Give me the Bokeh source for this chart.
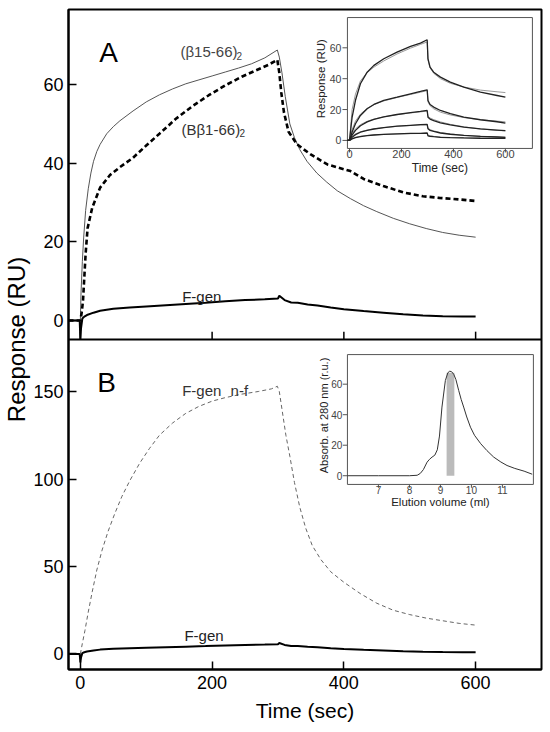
import math
from bokeh.plotting import figure
from bokeh.models import Range1d, FixedTicker, Span
from bokeh.embed import file_html
from bokeh.resources import INLINE
from bokeh.core.properties import value

FONT = "Liberation Sans"

# ---------------- data ----------------
time_ticks = [0, 200, 400, 600]
a_ticks = [0, 20, 40, 60]
b_ticks = [0, 50, 100, 150]

# Panel A: (beta15-66)2, thin grey line
beta15_t = [-18, -2, 0, 1, 3, 5, 8, 12, 16, 20, 25, 30, 40, 50, 60, 80, 100, 120, 140, 160,
            180, 200, 220, 240, 260, 280, 299, 302, 306, 311, 318, 325, 333, 344, 359, 374,
            390, 410, 430, 450, 475, 500, 525, 550, 575, 600]
beta15_ru = [0, 0, 0, 7, 15, 21, 28, 33.5, 37.5, 40.5, 43, 44.8, 47.5, 49.3, 50.8, 53.3, 55.6,
             57.4, 58.9, 60.2, 61.2, 62.2, 63.2, 64.2, 65.3, 66.8, 68.8, 67, 63, 57, 50, 46.5,
             43.5, 40.5, 37.5, 35.2, 33, 31, 29.2, 27.7, 26, 24.6, 23.4, 22.4, 21.7, 21.2]

# Panel A: (Bbeta1-66)2, thick dashed line
bbeta_t = [-18, -2, 0, 2, 4, 8, 11, 18, 30, 45, 60, 80, 100, 120, 145, 170, 195, 220, 245, 265,
           285, 299, 302, 305, 309, 316, 329, 349, 375, 410, 430, 460, 490, 520, 545, 575, 600]
bbeta_ru = [0, 0, 0, 2, 5, 17, 23.5, 28.7, 33.8, 37, 39, 41.4, 44.5, 47.5, 51.3, 54.5, 57.3,
            59.8, 62, 63.5, 65, 66.3, 63, 58, 53, 48, 44.8, 42.3, 39.7, 38, 36, 34.2, 32.6,
            31.6, 31.2, 30.8, 30.4]

# F-gen (panels A and B)
fgen_t = [-18, -5, -1, 0, 1, 3, 6, 10, 20, 30, 50, 75, 100, 130, 160, 190, 220, 250, 280, 300,
          302, 310, 320, 330, 345, 360, 380, 400, 430, 460, 490, 520, 550, 580, 600]
fgen_ru = [0, 0, 0, -4.8, -2, 0.5, 1, 1.4, 2, 2.5, 3, 3.3, 3.6, 3.9, 4.2, 4.5, 4.9, 5.2, 5.4,
           5.6, 6.3, 5.2, 4.6, 4.5, 4.1, 3.8, 3.3, 2.9, 2.4, 2, 1.6, 1.3, 1.1, 1, 1]

# Panel B: F-gen n-f, thin dashed line
nf_t = [0, 3, 7, 12, 18, 25, 33, 42, 52, 63, 75, 90, 105, 120, 140, 160, 180, 200, 220, 245,
        270, 290, 299, 302, 306, 312, 318, 325, 333, 342, 352, 365, 380, 400, 425, 450, 475,
        500, 525, 550, 575, 600]
nf_ru = [0, 6, 13.5, 24, 35.5, 48, 59.4, 70, 80, 90, 99, 109, 117.5, 125, 132, 137.5, 141.5,
         144.5, 146.5, 148.5, 150, 151.5, 153, 150, 140, 125, 113, 98, 84, 72, 62, 54, 47,
         41, 34.5, 29, 25, 22.5, 20.5, 19, 17.5, 16.5]

# Inset A: binding curves (black) and fits (grey)
insA_t = [-8, 0, 10, 23, 42, 68, 94, 132, 183, 235, 273, 299, 302, 310, 324, 350, 388, 440,
          504, 568, 600]
insA_c1 = [0, 0, 15, 26, 36.7, 44.2, 48.6, 52.9, 57.2, 60.9, 63, 65.2, 53, 47.5, 44.2, 41,
           37.8, 34.5, 31.3, 29.1, 28]
insA_f1 = [0, 0, 20, 30, 38.5, 44, 47.5, 51.5, 56, 59.8, 62.2, 63.8, 52, 47, 43.5, 40, 37,
           34.6, 32.6, 31.5, 31]
insA_c2 = [0, 0, 5.4, 10.8, 16.2, 20.5, 23.3, 25.9, 28, 30.2, 31.7, 32.8, 25.9, 23.3, 21.6,
           19.4, 17.3, 15.1, 13.4, 12.1, 11.2]
insA_f2 = [0, 0, 7, 12.5, 17, 20.8, 23.2, 25.6, 27.8, 29.8, 31.2, 32.3, 25, 22.5, 20.5, 18.3,
           16.5, 14.8, 13.4, 12.5, 12]
insA_c3 = [0, 0, 3.5, 6.5, 9.5, 12, 13.6, 15.3, 16.8, 18, 18.8, 19.4, 15, 13.8, 12.8, 11.4,
           10, 8.6, 7.5, 6.7, 6.3]
insA_f3 = [0, 0, 4.5, 7.5, 10.2, 12.4, 13.8, 15.3, 16.7, 17.8, 18.5, 19, 15.8, 14.5, 13.5, 12,
           10.4, 8.8, 7.4, 6.5, 6.2]
insA_c4 = [0, 0, 2, 3.7, 5.3, 6.5, 7.4, 8.3, 9.2, 9.8, 10.2, 10.4, 7.5, 6.5, 5.8, 4.8, 4, 3.3,
           2.6, 2.2, 2]
insA_f4 = [0, 0, 2.6, 4.2, 5.6, 6.7, 7.5, 8.3, 9.1, 9.7, 10, 10.2, 8, 7, 6.2, 5.1, 4.2, 3.3,
           2.7, 2.3, 2.1]
insA_c5 = [0, 0, 1, 1.8, 2.5, 3.1, 3.5, 3.9, 4.3, 4.5, 4.6, 4.8, 3, 2.7, 2.4, 2, 1.8, 1.6, 1.4,
           1.3, 1.3]
insA_f5 = [0, 0, 1.2, 2, 2.7, 3.2, 3.6, 3.9, 4.2, 4.4, 4.5, 4.6, 3.3, 2.9, 2.6, 2.2, 1.9, 1.7,
           1.5, 1.4, 1.3]
insA_x_ticks = [0, 200, 400, 600]
insA_y_ticks = [0, 20, 40, 60]

# Inset B: elution profile
chrom_ml = [6.0, 7.0, 8.0, 8.25, 8.35, 8.45, 8.57, 8.65, 8.73, 8.82, 8.9, 8.97, 9.05, 9.16,
            9.24, 9.30, 9.36, 9.43, 9.5, 9.59, 9.67, 9.75, 9.85, 9.97, 10.1, 10.3, 10.5,
            10.72, 10.95, 11.15, 11.4, 11.7, 11.96]
chrom_abs = [0, 0, 0, 0.3, 1.5, 4, 8.9, 10.8, 12.2, 13.5, 17, 26, 45, 62.4, 67.5, 68.5, 68.2,
             66.5, 63, 55.9, 50, 45, 38.5, 31.8, 26.5, 21, 16.5, 12.2, 9, 6.7, 4.8, 3, 1]
band_ml = [9.2, 9.45]
band_abs = 67.5
insB_x_ticks = [7, 8, 9, 10, 11]
insB_y_ticks = [0, 20, 40, 60]

# ---------------- geometry ----------------
X_RANGE = (-18, 700)
Y_FULL = (-8.86, 368.3)       # panel B units over the whole frame
DIV = 179.7                   # A/B boundary in panel B units
A_SRC = (-4.83, 79.1)
A_TGT = (DIV, Y_FULL[1])
INSA_SRC_X = (-8, 704)
INSA_SRC_Y = (-5.2, 79.6)
INSA_TGT_X = (405.4, 686.2)
INSA_TGT_Y = (288.9, 363.7)
INSB_SRC_X = (6, 12)
INSB_SRC_Y = (-5.7, 79.4)
INSB_TGT_X = (405.4, 687.7)
INSB_TGT_Y = (96.9, 171.1)

p = figure(width=550, height=732, output_backend="svg", toolbar_location=None,
           x_range=Range1d(*X_RANGE), y_range=Range1d(*Y_FULL),
           min_border_left=68, min_border_right=9, min_border_top=9, min_border_bottom=63)
p.grid.visible = False
p.outline_line_color = "black"
p.outline_line_width = 2
p.background_fill_color = "white"
p.border_fill_color = "white"

# x axis
xa = p.xaxis[0]
xa.ticker = FixedTicker(ticks=time_ticks)
xa.axis_label = "Time (sec)"
for ax in [xa, p.yaxis[0]]:
    ax.major_tick_in = 8
    ax.major_tick_out = 0
    ax.minor_tick_line_color = None
    ax.major_tick_line_width = 1.5
    ax.major_tick_line_color = "black"
    ax.axis_line_width = 2
    ax.axis_line_color = "black"
    ax.major_label_text_font = FONT
    ax.major_label_text_font_size = "18px"
    ax.major_label_text_color = "black"
    ax.axis_label_text_font = FONT
    ax.axis_label_text_font_style = "normal"
    ax.axis_label_text_color = "black"
xa.major_label_standoff = 6
xa.axis_label_standoff = 7
xa.axis_label_text_font_size = "21px"

# y axis: panel B ticks plus panel A ticks mapped into the shared frame
def a_to_frame(v):
    return A_TGT[0] + (v - A_SRC[0]) * (A_TGT[1] - A_TGT[0]) / (A_SRC[1] - A_SRC[0])

a_pos = [a_to_frame(v) for v in a_ticks]
ya = p.yaxis[0]
ya.ticker = FixedTicker(ticks=[float(v) for v in b_ticks] + a_pos)
overrides = {float(v): str(v) for v in b_ticks}
overrides.update({pos: str(v) for pos, v in zip(a_pos, a_ticks)})
ya.major_label_overrides = overrides
ya.major_label_standoff = 5
ya.axis_label = "Response (RU)"
ya.axis_label_standoff = 0
ya.axis_label_text_font_size = "24px"

# divider between panels
p.add_layout(Span(location=DIV, dimension="width", line_color="black", line_width=2))

# ---------------- panel A ----------------
sa = p.subplot(x_source=Range1d(*X_RANGE), y_source=Range1d(*A_SRC),
               x_target=Range1d(*X_RANGE), y_target=Range1d(*A_TGT))
sa.segment(x0=time_ticks, y0=[A_SRC[0]] * 4, x1=time_ticks, y1=[A_SRC[0] + 2.0] * 4,
           line_color="black", line_width=1.5)
sa.line(beta15_t, beta15_ru, line_color="#555555", line_width=1)
sa.line(bbeta_t, bbeta_ru, line_color="black", line_width=2.6, line_dash="5 3")
sa.line(fgen_t, fgen_ru, line_color="black", line_width=2)

txt = dict(text_font=value(FONT), text_baseline="alphabetic", text_align="left")
sa.text(x=[43], y=[68.2], text=["A"], text_font_size="28px", text_color="black",
        text_font=value(FONT), text_baseline="alphabetic", text_align="center")
sa.text(x=[152], y=[68.4], text=["(β15-66)"], text_font_size="15px", text_color="#444444", **txt)
sa.text(x=[152], y=[68.4], text=["2"], text_font_size="10px", text_color="#444444",
        x_offset=56, y_offset=4, **txt)
sa.text(x=[153.5], y=[48.7], text=["(Bβ1-66)"], text_font_size="15px", text_color="#333333", **txt)
sa.text(x=[153.5], y=[48.7], text=["2"], text_font_size="10px", text_color="#333333",
        x_offset=58, y_offset=4, **txt)
sa.text(x=[154.5], y=[6.1], text=["F-gen"], text_font_size="15px", text_color="#222222", **txt)

# ---------------- panel B ----------------
p.line(nf_t, nf_ru, line_color="#666666", line_width=1, line_dash="4 3")
p.line(fgen_t, fgen_ru, line_color="black", line_width=2)
p.text(x=[40], y=[155.3], text=["B"], text_font_size="28px", text_color="black",
       text_font=value(FONT), text_baseline="alphabetic", text_align="center")
p.text(x=[154.5], y=[150.5], text=["F-gen"], text_font_size="15px", text_color="#333333", **txt)
p.text(x=[228], y=[150.5], text=["n-f"], text_font_size="15px", text_color="#333333", **txt)
p.text(x=[158], y=[10.5], text=["F-gen"], text_font_size="15px", text_color="#222222", **txt)

# ---------------- inset A ----------------
ia = p.subplot(x_source=Range1d(*INSA_SRC_X), y_source=Range1d(*INSA_SRC_Y),
               x_target=Range1d(*INSA_TGT_X), y_target=Range1d(*INSA_TGT_Y))
ia.quad(left=[INSA_SRC_X[0]], right=[INSA_SRC_X[1]], bottom=[INSA_SRC_Y[0]], top=[INSA_SRC_Y[1]],
        fill_color="white", line_color="#555555", line_width=1)
ia.segment(x0=[INSA_SRC_X[0]] * 4, y0=insA_y_ticks, x1=[INSA_SRC_X[0] - 19] * 4, y1=insA_y_ticks,
           line_color="#555555", line_width=1)
ia.segment(x0=insA_x_ticks, y0=[INSA_SRC_Y[0]] * 4, x1=insA_x_ticks, y1=[INSA_SRC_Y[0] - 2.6] * 4,
           line_color="#555555", line_width=1)
for fit in [insA_f1, insA_f2, insA_f3, insA_f4, insA_f5]:
    ia.line(insA_t, fit, line_color="#999999", line_width=1)
for cur in [insA_c1, insA_c2, insA_c3, insA_c4, insA_c5]:
    ia.line(insA_t, cur, line_color="#222222", line_width=1.3)
small = dict(text_font=value(FONT), text_color="#444444")
ia.text(x=[INSA_SRC_X[0]] * 4, y=insA_y_ticks, text=[str(v) for v in insA_y_ticks],
        x_offset=-6, text_align="right", text_baseline="middle", text_font_size="10.5px", **small)
ia.text(x=insA_x_ticks, y=[INSA_SRC_Y[0]] * 4, text=[str(v) for v in insA_x_ticks],
        y_offset=2, text_align="center", text_baseline="top", text_font_size="11px", **small)
ia.text(x=[348], y=[INSA_SRC_Y[0]], text=["Time (sec)"], y_offset=13, text_align="center",
        text_baseline="top", text_font_size="12px", text_font=value(FONT), text_color="#222222")
ia.text(x=[INSA_SRC_X[0]], y=[40], text=["Response (RU)"], angle=math.pi / 2, x_offset=-26,
        text_align="center", text_baseline="middle", text_font_size="11.5px",
        text_font=value(FONT), text_color="#222222")

# ---------------- inset B ----------------
ib = p.subplot(x_source=Range1d(*INSB_SRC_X), y_source=Range1d(*INSB_SRC_Y),
               x_target=Range1d(*INSB_TGT_X), y_target=Range1d(*INSB_TGT_Y))
ib.quad(left=[INSB_SRC_X[0]], right=[INSB_SRC_X[1]], bottom=[INSB_SRC_Y[0]], top=[INSB_SRC_Y[1]],
        fill_color="white", line_color="#555555", line_width=1)
ib.quad(left=[band_ml[0]], right=[band_ml[1]], bottom=[0], top=[band_abs],
        fill_color="#bbbbbb", line_color=None)
ib.segment(x0=[INSB_SRC_X[0]] * 4, y0=insB_y_ticks, x1=[INSB_SRC_X[0] - 0.15] * 4, y1=insB_y_ticks,
           line_color="#555555", line_width=1)
ib.segment(x0=insB_x_ticks, y0=[INSB_SRC_Y[0]] * 5, x1=insB_x_ticks, y1=[INSB_SRC_Y[0] - 2.2] * 5,
           line_color="#555555", line_width=1)
ib.line(chrom_ml, chrom_abs, line_color="#333333", line_width=1)
ib.text(x=[INSB_SRC_X[0]] * 4, y=insB_y_ticks, text=[str(v) for v in insB_y_ticks],
        x_offset=-5, text_align="right", text_baseline="middle", text_font_size="10px", **small)
ib.text(x=insB_x_ticks, y=[INSB_SRC_Y[0]] * 5, text=[str(v) for v in insB_x_ticks],
        y_offset=2, text_align="center", text_baseline="top", text_font_size="10px", **small)
ib.text(x=[9.0], y=[INSB_SRC_Y[0]], text=["Elution volume (ml)"], y_offset=11.5, text_align="center",
        text_baseline="top", text_font_size="11.5px", text_font=value(FONT), text_color="#222222")
ib.text(x=[INSB_SRC_X[0]], y=[39.5], text=["Absorb. at 280 nm (r.u.)"], angle=math.pi / 2,
        x_offset=-23.5, text_align="center", text_baseline="middle", text_font_size="11px",
        text_font=value(FONT), text_color="#222222")

open("out.html", "w").write(file_html(p, INLINE))
